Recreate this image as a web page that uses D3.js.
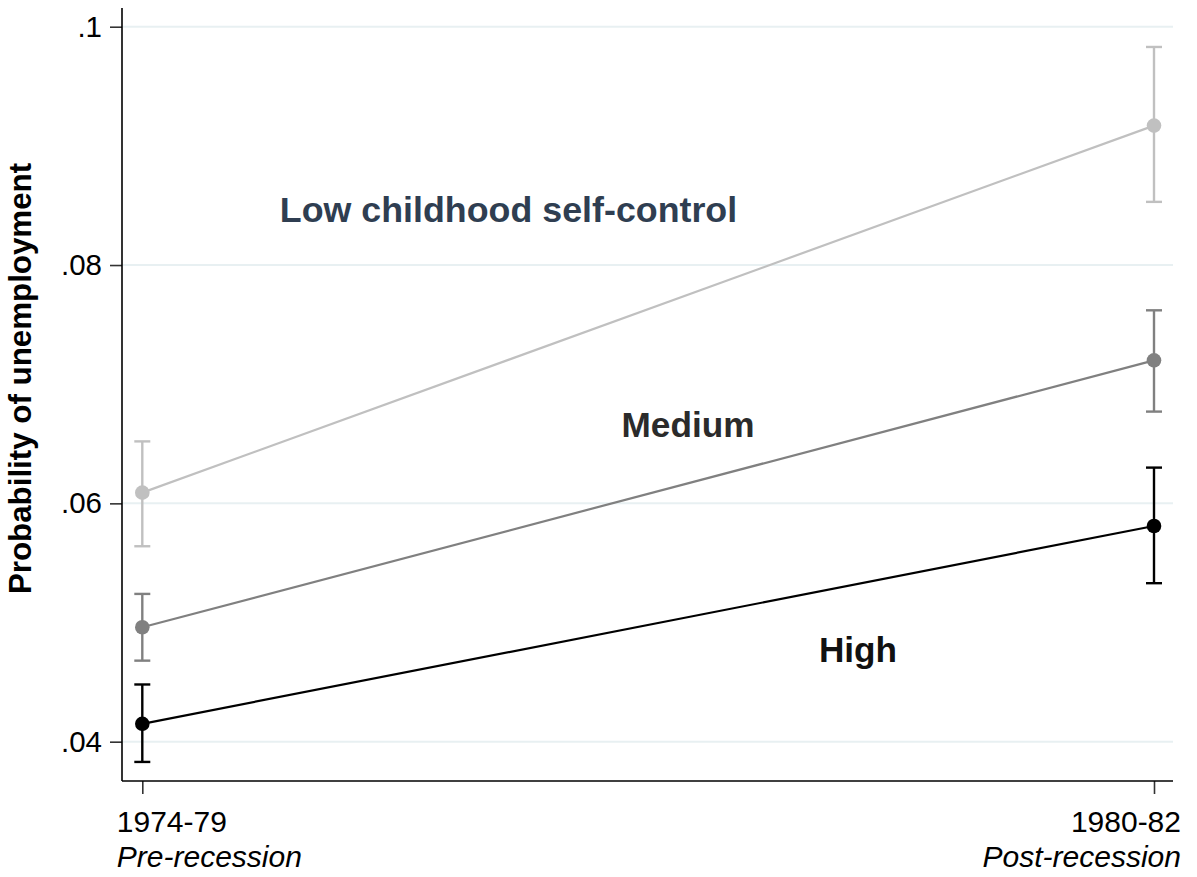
<!DOCTYPE html>
<html>
<head>
<meta charset="utf-8">
<script src="https://cdn.jsdelivr.net/npm/d3@7"></script>
<style>
  html, body { margin: 0; padding: 0; background: #ffffff; }
  svg { display: block; font-family: "Liberation Sans", Arial, sans-serif; }
</style>
</head>
<body>
<svg id="chart" width="1197" height="877"></svg>
<script>
// Periods on the x axis
const periods = ["1974-79", "1980-82"];
const periodSubtitles = ["Pre-recession", "Post-recession"];

// Childhood self-control groups
const groups = ["Low childhood self-control", "Medium", "High"];

// Predicted probability of unemployment per group and period
const lowValues = [0.0609, 0.0917];
const lowLower = [0.0564, 0.0853];
const lowUpper = [0.0652, 0.0983];

const mediumValues = [0.0496, 0.0720];
const mediumLower = [0.0468, 0.0677];
const mediumUpper = [0.0524, 0.0762];

const highValues = [0.0415, 0.0581];
const highLower = [0.0383, 0.0533];
const highUpper = [0.0448, 0.0630];

// Y axis ticks
const yTicks = [0.04, 0.06, 0.08, 0.1];
const yTickLabels = [".04", ".06", ".08", ".1"];

const series = [
  { name: groups[0], values: lowValues, lower: lowLower, upper: lowUpper, color: "#c0c0c0", labelColor: "#2f3e51", size: 35.8 },
  { name: groups[1], values: mediumValues, lower: mediumLower, upper: mediumUpper, color: "#808080", labelColor: "#2b2b2b", size: 35.2 },
  { name: groups[2], values: highValues, lower: highLower, upper: highUpper, color: "#000000", labelColor: "#111111", size: 35.2 }
];

const svg = d3.select("#chart");

const plot = { left: 122, right: 1173, top: 8, bottom: 781 };

const x = d3.scalePoint().domain(periods).range([142.3, 1154]);
const y = d3.scaleLinear().domain([0.0367, 0.10157]).range([plot.bottom, plot.top]);

// Gridlines
svg.append("g")
  .selectAll("line")
  .data(yTicks)
  .join("line")
  .attr("x1", plot.left)
  .attr("x2", plot.right)
  .attr("y1", d => y(d))
  .attr("y2", d => y(d))
  .attr("stroke", "#e8f0f2")
  .attr("stroke-width", 2);

// Y axis
const yAxis = d3.axisLeft(y)
  .tickValues(yTicks)
  .tickFormat((d, i) => yTickLabels[i])
  .tickSize(12)
  .tickPadding(8);

const yg = svg.append("g")
  .attr("transform", `translate(${plot.left},0)`)
  .call(yAxis);
yg.select(".domain").remove();
yg.selectAll(".tick line").attr("stroke", "#333").attr("stroke-width", 1.6);
yg.selectAll(".tick text")
  .attr("fill", "#000")
  .style("font-size", "29.5px")
  .style("font-family", "'Liberation Sans', Arial, sans-serif");

svg.append("line")
  .attr("x1", plot.left).attr("x2", plot.left)
  .attr("y1", plot.top).attr("y2", plot.bottom)
  .attr("stroke", "#000").attr("stroke-width", 1.6);

// X axis
const xAxis = d3.axisBottom(x).tickSize(13).tickFormat("");
const xg = svg.append("g")
  .attr("transform", `translate(0,${plot.bottom})`)
  .call(xAxis);
xg.select(".domain").remove();
xg.selectAll(".tick line").attr("stroke", "#333").attr("stroke-width", 1.6);

svg.append("line")
  .attr("x1", plot.left).attr("x2", plot.right)
  .attr("y1", plot.bottom).attr("y2", plot.bottom)
  .attr("stroke", "#000").attr("stroke-width", 1.6);

// Two-line period labels: first flush left, last flush right
periods.forEach((p, i) => {
  const first = i === 0;
  const tx = first ? x(p) - 25.5 : x(p) + 27;
  const anchor = first ? "start" : "end";
  const t = svg.append("text")
    .attr("x", tx)
    .attr("text-anchor", anchor)
    .style("font-size", "30px")
    .attr("fill", "#000");
  t.append("tspan").attr("x", tx).attr("y", 832).text(p);
  t.append("tspan").attr("x", tx).attr("y", 867).style("font-style", "italic").text(periodSubtitles[i]);
});

// Y axis title
svg.append("text")
  .attr("transform", `translate(31,${(163 + 594) / 2}) rotate(-90)`)
  .attr("text-anchor", "middle")
  .style("font-size", "31.3px")
  .style("font-weight", "bold")
  .attr("fill", "#000")
  .text("Probability of unemployment");

// Connecting lines
const line = d3.line()
  .x((d, i) => x(periods[i]))
  .y(d => y(d));

series.forEach(s => {
  svg.append("path")
    .datum(s.values)
    .attr("d", line)
    .attr("fill", "none")
    .attr("stroke", s.color)
    .attr("stroke-width", 2.2);

  const g = svg.append("g");
  const capHalf = 8;
  periods.forEach((p, i) => {
    const cx = x(p);
    g.append("line")
      .attr("x1", cx).attr("x2", cx)
      .attr("y1", y(s.lower[i])).attr("y2", y(s.upper[i]))
      .attr("stroke", s.color).attr("stroke-width", 2.4);
    [s.lower[i], s.upper[i]].forEach(v => {
      g.append("line")
        .attr("x1", cx - capHalf).attr("x2", cx + capHalf)
        .attr("y1", y(v)).attr("y2", y(v))
        .attr("stroke", s.color).attr("stroke-width", 2.4);
    });
    g.append("circle")
      .attr("cx", cx).attr("cy", y(s.values[i]))
      .attr("r", 7.3)
      .attr("fill", s.color);
  });
});

// Group labels
const labelPos = [
  { cx: 508.5, by: 222 },
  { cx: 688, by: 437 },
  { cx: 858, by: 662 }
];
series.forEach((s, i) => {
  svg.append("text")
    .attr("x", labelPos[i].cx)
    .attr("y", labelPos[i].by)
    .attr("text-anchor", "middle")
    .style("font-size", s.size + "px")
    .style("font-weight", "bold")
    .attr("fill", s.labelColor)
    .text(s.name);
});
</script>
</body>
</html>
